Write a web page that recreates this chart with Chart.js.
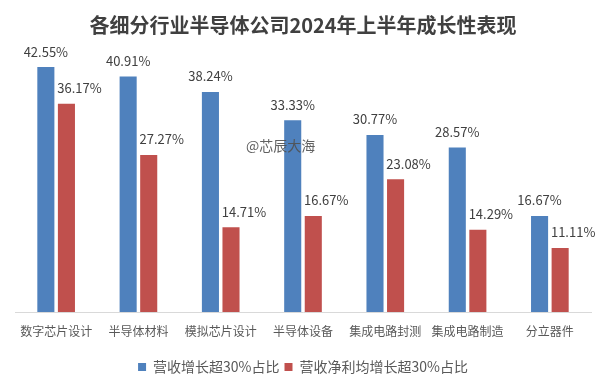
<!DOCTYPE html>
<html>
<head>
<meta charset="utf-8">
<script src="https://cdn.jsdelivr.net/npm/chart.js@4/dist/chart.umd.min.js"></script>
<style>
  html, body { margin: 0; padding: 0; background: #fff; }
  #wrap { width: 605px; height: 378px; position: relative; }
</style>
</head>
<body>
<div id="wrap"><canvas id="myChart"></canvas></div>
<script>
'use strict';

// data
const categories = ['数字芯片设计', '半导体材料', '模拟芯片设计', '半导体设备', '集成电路封测', '集成电路制造', '分立器件'];
const revenueGrowth = [42.55, 40.91, 38.24, 33.33, 30.77, 28.57, 16.67];
const revenueProfitGrowth = [36.17, 27.27, 14.71, 16.67, 23.08, 14.29, 11.11];
const seriesNames = ['营收增长超30%占比', '营收净利均增长超30%占比'];

const FONT = '"Microsoft YaHei", "Noto Sans CJK SC", sans-serif';

// value labels above bars (red labels sit a bit to the right, like the original)
const valueLabels = {
  id: 'valueLabels',
  afterDatasetsDraw(chart) {
    const ctx = chart.ctx;
    ctx.save();
    ctx.font = '13px ' + FONT;
    ctx.fillStyle = '#404040';
    ctx.textAlign = 'center';
    ctx.textBaseline = 'bottom';
    chart.data.datasets.forEach(function (ds, i) {
      const meta = chart.getDatasetMeta(i);
      const shift = i === 1 ? 13 : 0;
      meta.data.forEach(function (bar, j) {
        ctx.fillText(ds.data[j].toFixed(2) + '%', bar.x + shift, bar.y - 9);
      });
    });
    ctx.restore();
  }
};

// watermark
const watermark = {
  id: 'watermark',
  afterDraw(chart) {
    const ctx = chart.ctx;
    ctx.save();
    ctx.font = '14px ' + FONT;
    ctx.fillStyle = 'rgba(80,80,80,0.9)';
    ctx.textAlign = 'left';
    ctx.textBaseline = 'middle';
    ctx.fillText('@芯辰大海', 246, 146);
    ctx.restore();
  }
};

new Chart(document.getElementById('myChart'), {
  type: 'bar',
  data: {
    labels: categories,
    datasets: [
      { label: seriesNames[0], data: revenueGrowth, backgroundColor: '#4F81BD' },
      { label: seriesNames[1], data: revenueProfitGrowth, backgroundColor: '#C0504D' }
    ]
  },
  options: {
    responsive: true,
    maintainAspectRatio: false,
    animation: false,
    layout: { padding: { left: 15, right: 14, top: 0, bottom: -6 } },
    categoryPercentage: 0.5,
    barPercentage: 0.83,
    scales: {
      x: {
        grid: { display: false, drawTicks: false },
        border: { display: true, color: '#d9d9d9', width: 1 },
        ticks: { color: '#595959', font: { family: FONT, size: 12 }, padding: 12, maxRotation: 0, autoSkip: false },
        afterFit: function (scale) { scale.height = 43; }
      },
      y: {
        display: false,
        min: 0,
        max: 45
      }
    },
    plugins: {
      title: {
        display: true,
        text: '各细分行业半导体公司2024年上半年成长性表现',
        color: '#404040',
        font: { family: FONT, size: 20, weight: 'bold' },
        padding: { top: 13, bottom: 16 }
      },
      legend: {
        position: 'bottom',
        labels: {
          color: '#595959',
          font: { family: FONT, size: 14 },
          boxWidth: 8,
          boxHeight: 8,
          padding: 5
        }
      },
      tooltip: { enabled: false }
    }
  },
  plugins: [valueLabels, watermark]
});
</script>
</body>
</html>
